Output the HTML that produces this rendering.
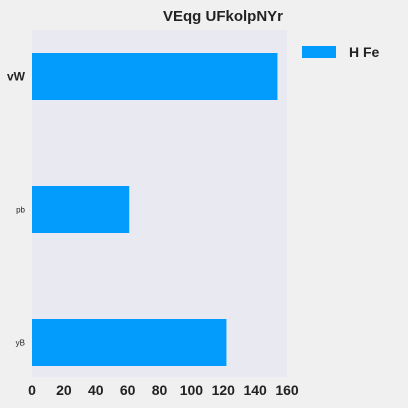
<!DOCTYPE html>
<html><head><meta charset="utf-8"><style>
html,body{margin:0;padding:0;background:#f0f0f0;}
svg{display:block;font-family:"Liberation Sans",sans-serif;}
</style></head><body>
<svg id="chart" width="408" height="408">
<rect x="0" y="0" width="408" height="408" fill="#f0f0f0"/>
<rect x="32" y="30" width="255" height="347" fill="#e9e9f1"/>
<text x="223" y="21" font-size="15" font-weight="bold" fill="#222" text-anchor="middle">VEqg UFkolpNYr</text>
<rect x="302" y="46" width="34" height="12" fill="#039cfd"/>
<text x="349" y="57" font-size="14" font-weight="bold" fill="#222">H Fe</text>
<g id="bars"></g><g id="xticks"></g><g id="yticks"></g>
</svg>
<script>
const categories = ["vW", "pb", "yB"];
const values = [154, 61, 122];
const xTicks = [0, 20, 40, 60, 80, 100, 120, 140, 160];
const labelSizes = [12, 8, 8];
const labelWeights = ["bold", "normal", "normal"];
const NS = "http://www.w3.org/2000/svg";
function x(v){ return 32 + v * 255 / 160; }
function y(i){ return 76.5 + i * 133; }
const bars = document.getElementById('bars');
const yt = document.getElementById('yticks');
const xt = document.getElementById('xticks');
categories.forEach((c, i) => {
  const r = document.createElementNS(NS, 'rect');
  r.setAttribute('x', x(0));
  r.setAttribute('y', y(i) - 23.5);
  r.setAttribute('width', x(values[i]) - x(0));
  r.setAttribute('height', 47);
  r.setAttribute('fill', '#039cfd');
  
  
  bars.appendChild(r);
  const t = document.createElementNS(NS, 'text');
  t.setAttribute('x', 25);
  t.setAttribute('y', y(i) + labelSizes[i] * 0.35);
  t.setAttribute('text-anchor', 'end');
  t.setAttribute('font-size', labelSizes[i]);
  t.setAttribute('font-weight', labelWeights[i]);
  t.setAttribute('fill', '#222');
  t.textContent = c;
  
  
  yt.appendChild(t);
});
xTicks.forEach(v => {
  const t = document.createElementNS(NS, 'text');
  t.setAttribute('x', x(v));
  t.setAttribute('y', 395);
  t.setAttribute('text-anchor', 'middle');
  t.setAttribute('font-size', 14);
  t.setAttribute('font-weight', 'bold');
  t.setAttribute('fill', '#222');
  t.textContent = v;
  
  
  xt.appendChild(t);
});
</script>
</body></html>
